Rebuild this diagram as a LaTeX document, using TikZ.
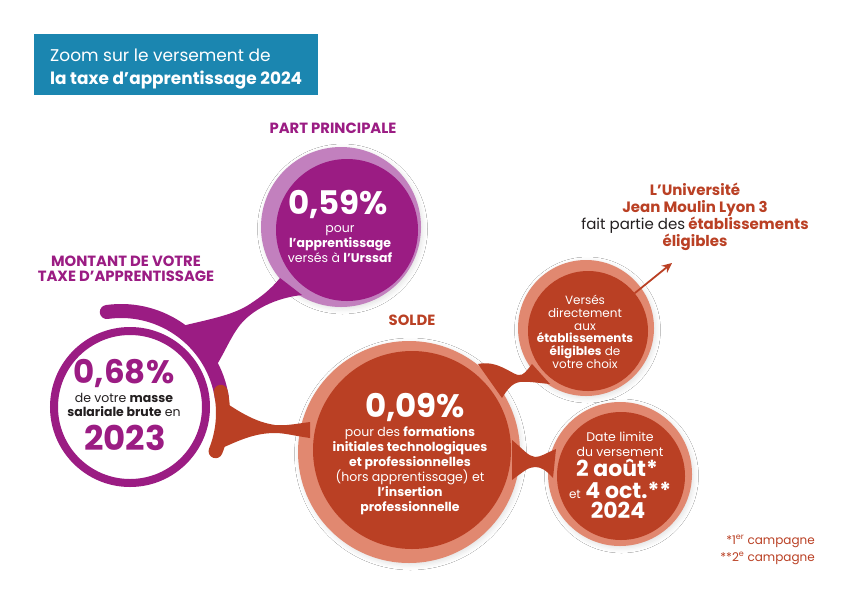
\documentclass[tikz,border=0pt]{standalone}
\usepackage{fontspec}
\setmainfont{Poppins}
\usetikzlibrary{arrows.meta,shadows.blur}
\definecolor{pD}{RGB}{155,28,131}
\definecolor{pL}{RGB}{194,128,190}
\definecolor{oD}{RGB}{186,64,36}
\definecolor{oL}{RGB}{225,136,112}
\definecolor{tb}{RGB}{27,134,176}
\definecolor{ink}{RGB}{35,31,32}
\newcommand{\fs}[2]{\fontsize{#1}{#2}\selectfont}
\begin{document}
\begin{tikzpicture}[x=1pt,y=-1pt,
  disc/.style={circle, inner sep=0pt, minimum size=#1},
  shd/.style={blur shadow={shadow xshift=1.5pt, shadow yshift=-2pt, shadow opacity=12, shadow blur radius=5pt}},
  wtxt/.style={text=white, align=center, inner sep=0pt},
  bignum/.style={inner sep=0pt, font=\bfseries\fs{32.5}{32}},
  lbl/.style={inner sep=0pt, align=center, font=\bfseries\fs{14.8}{15.5}}]
\useasboundingbox (0,0) rectangle (850,600);
\fill[white] (0,0) rectangle (850,600);

% title
\node[fill=tb, minimum width=284pt, minimum height=61pt, anchor=north west, inner sep=0pt] (titlebox) at (34,34) {};
\node[anchor=base west, text=white, inner sep=0pt, font=\fs{17}{18}] (t1) at (50,61) {Zoom sur le versement de};
\node[anchor=base west, text=white, inner sep=0pt, font=\bfseries\fs{16.9}{18}] (t2) at (50,84) {la taxe d’apprentissage 2024};

% labels
\node[lbl, text=pD] (pp) at (333,128) {PART PRINCIPALE};
\node[lbl, text=pD] (montant) at (126,269) {MONTANT DE VOTRE\\TAXE D’APPRENTISSAGE};
\node[lbl, text=oD] (solde) at (412,320) {SOLDE};

% outer light discs
\node[disc=160pt, fill=pL, shd] (c059o) at (341,227) {};
\node[disc=222pt, fill=oL, shd] (c009o) at (409,452) {};
\node[disc=136pt, fill=oL, shd] (cverso) at (586,328) {};
\node[disc=144pt, fill=oL, shd] (cdateo) at (620,474) {};

% bridges
\fill[pD] (178,327) .. controls (205,320) and (232,316) .. (250,304)
  .. controls (262,296) and (270,290) .. (280,278) -- (302,295)
  .. controls (275,298) and (252,310) .. (240,325)
  .. controls (230,338) and (225,352) .. (216,366) -- cycle;
\fill[oD] (226,403) .. controls (240,412) and (255,422) .. (275,425)
  .. controls (285,426) and (295,424) .. (310,422) -- (310,438)
  .. controls (295,436) and (285,433) .. (275,433)
  .. controls (255,433) and (240,440) .. (222,448) -- cycle;
\fill[oD] (478,364) .. controls (497,360) and (510,373) .. (518,375)
  .. controls (524,376) and (527,370) .. (532,364) -- (550,384)
  .. controls (538,383) and (527,381) .. (520,382)
  .. controls (512,383) and (507,390) .. (502,398) -- cycle;
\fill[oD] (512,440) .. controls (524,450) and (528,456) .. (535,457)
  .. controls (541,457) and (546,453) .. (556,449) -- (553,478)
  .. controls (546,470) and (541,467) .. (535,467)
  .. controls (528,467) and (523,472) .. (512,480) -- cycle;

% inner discs
\node[disc=142pt, fill=pD] (c059) at (347,230) {};
\node[disc=198pt, fill=oD] (c009) at (412,450) {};
\node[disc=120pt, fill=oD] (cvers) at (588,331) {};
\node[disc=128pt, fill=oD] (cdate) at (621,476) {};

% ring and arc
\node[disc=152pt, draw=pD, line width=8pt] (ring) at (130,407) {};
\draw[pD, line width=14pt, line cap=round] (121,413) ++(-98:102) arc[start angle=-98, end angle=-8, radius=102];
\draw[oD, line width=14pt, line cap=round] (121,413) ++(-12:102) arc[start angle=-12, end angle=22, radius=102];

% texts 0,68
\node[bignum, text=pD] (p068) at (124,373) {0,68\%};
\node[inner sep=0pt, align=center, text=ink, font=\fs{12.5}{14}] (t068) at (124,405) {de votre \textbf{masse}\\\textbf{salariale brute} en};
\node[bignum, text=pD, font=\bfseries\fs{34}{34}] (y2023) at (125,438) {2023};

% texts 0,59
\node[bignum, text=white] (p059) at (338,204) {0,59\%};
\node[wtxt, font=\fs{12.5}{14.6}] (t059) at (340,244) {pour\\\textbf{l’apprentissage}\\versés à \textbf{l’Urssaf}};

% texts 0,09
\node[bignum, text=white] (p009) at (415,407) {0,09\%};
\node[wtxt, font=\fs{12.5}{15}] (t009) at (410,471) {pour des \textbf{formations}\\\textbf{initiales technologiques}\\\textbf{et professionnelles}\\(hors apprentissage) et\\\textbf{l’insertion}\\\textbf{professionnelle}};

% versés
\node[wtxt, font=\fs{12}{12.7}] (tvers) at (585,332) {Versés\\directement\\aux\\\textbf{établissements}\\\textbf{éligibles} de\\votre choix};

% date
\node[anchor=base, text=white, inner sep=0pt, font=\fs{12.5}{14}] (d1) at (620,441) {Date limite};
\node[anchor=base, text=white, inner sep=0pt, font=\fs{12.5}{14}] (d2) at (620,456) {du versement};
\node[anchor=base, text=white, inner sep=0pt, font=\bfseries\fs{22}{24}] (d3) at (617,476) {2 août*};
\node[anchor=base, text=white, inner sep=0pt, font=\bfseries\fs{22}{24}] (d4) at (620,498) {{\mdseries\fs{12}{14}et} 4 oct.**};
\node[anchor=base, text=white, inner sep=0pt, font=\bfseries\fs{22}{24}] (d5) at (618,518) {2024};

% université
\node[inner sep=0pt, align=center, text=oD, font=\bfseries\fs{15}{17}] (univ) at (695,217) {L’Université\\Jean Moulin Lyon 3\\{\mdseries\color{ink}fait partie des} établissements\\éligibles};
\coordinate (tip) at (672,263);
\draw[oD, line width=1.8pt, -{Stealth[length=10pt,width=9pt]}] (cvers) -- (tip);

% footnotes
\node[anchor=base east, text=oD, inner sep=0pt, font=\fs{12}{14}] (f1) at (815,544) {*1\textsuperscript{er} campagne};
\node[anchor=base east, text=oD, inner sep=0pt, font=\fs{12}{14}] (f2) at (815,561) {**2\textsuperscript{e} campagne};
\end{tikzpicture}
\end{document}
